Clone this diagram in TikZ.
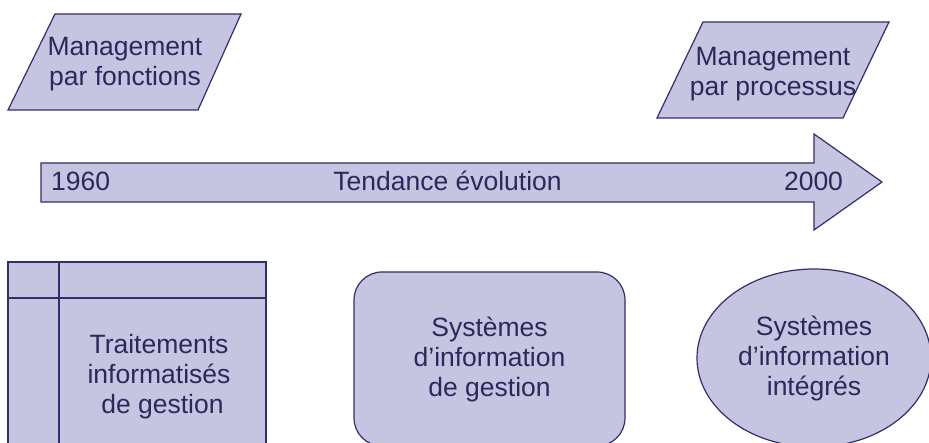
\documentclass[tikz,border=0pt]{standalone}
\usepackage{fontspec}
\setmainfont{Liberation Sans}
\usetikzlibrary{shapes.geometric}
\definecolor{boxfill}{RGB}{198,196,225}
\definecolor{boxline}{RGB}{46,48,108}
\definecolor{boxtext}{RGB}{40,42,92}

\begin{document}
\begin{tikzpicture}[x=1pt,y=-1pt,
  figure/.style={fill=boxfill,draw=boxline,line width=1.2pt,line join=miter},
  caption/.style={text=boxtext,font=\fontsize{26.5}{30}\selectfont,inner sep=0pt,align=center}]
\clip (0,0) rectangle (929,443);
\fill[white] (0,0) rectangle (929,443);

% management styles (parallelograms)
\draw[figure] (55,14) -- (241,14) -- (198,110) -- (8,110) -- cycle;
\node[caption] (mgtfct) at (125,64) {Management\\par fonctions};
\draw[figure] (703,22) -- (889,22) -- (843,118) -- (657,118) -- cycle;
\node[caption] (mgtproc) at (773,74) {Management\\par processus};

% timeline arrow
\draw[figure] (41,163) -- (814,163) -- (814,134) -- (882,182) -- (814,230)
  -- (814,202) -- (41,202) -- cycle;
\node[caption,anchor=base west] (y1960) at (51,191) {1960};
\node[caption,anchor=base] (trend) at (447.5,191) {Tendance évolution};
\node[caption,anchor=base] (y2000) at (813.5,191) {2000};

% data processing table
\draw[figure] (8,262) rectangle (266,470);
\draw[boxline,line width=1.2pt] (59,262) -- (59,470);
\draw[boxline,line width=1.2pt] (8,298) -- (266,298);
\node[caption] (traitements) at (159,377)
  {Traitements\\informatisés\\\hspace*{7pt}de gestion};

% management information systems
\node[figure,caption,rounded corners=28pt,minimum width=271pt,minimum height=174pt]
  (sig) at (489.5,359) {Systèmes\\d’information\\de gestion};

% integrated information systems
\node[figure,caption,ellipse,minimum width=234pt,minimum height=178pt]
  (sii) at (814,358) {Systèmes\\d’information\\intégrés};
\end{tikzpicture}
\end{document}
